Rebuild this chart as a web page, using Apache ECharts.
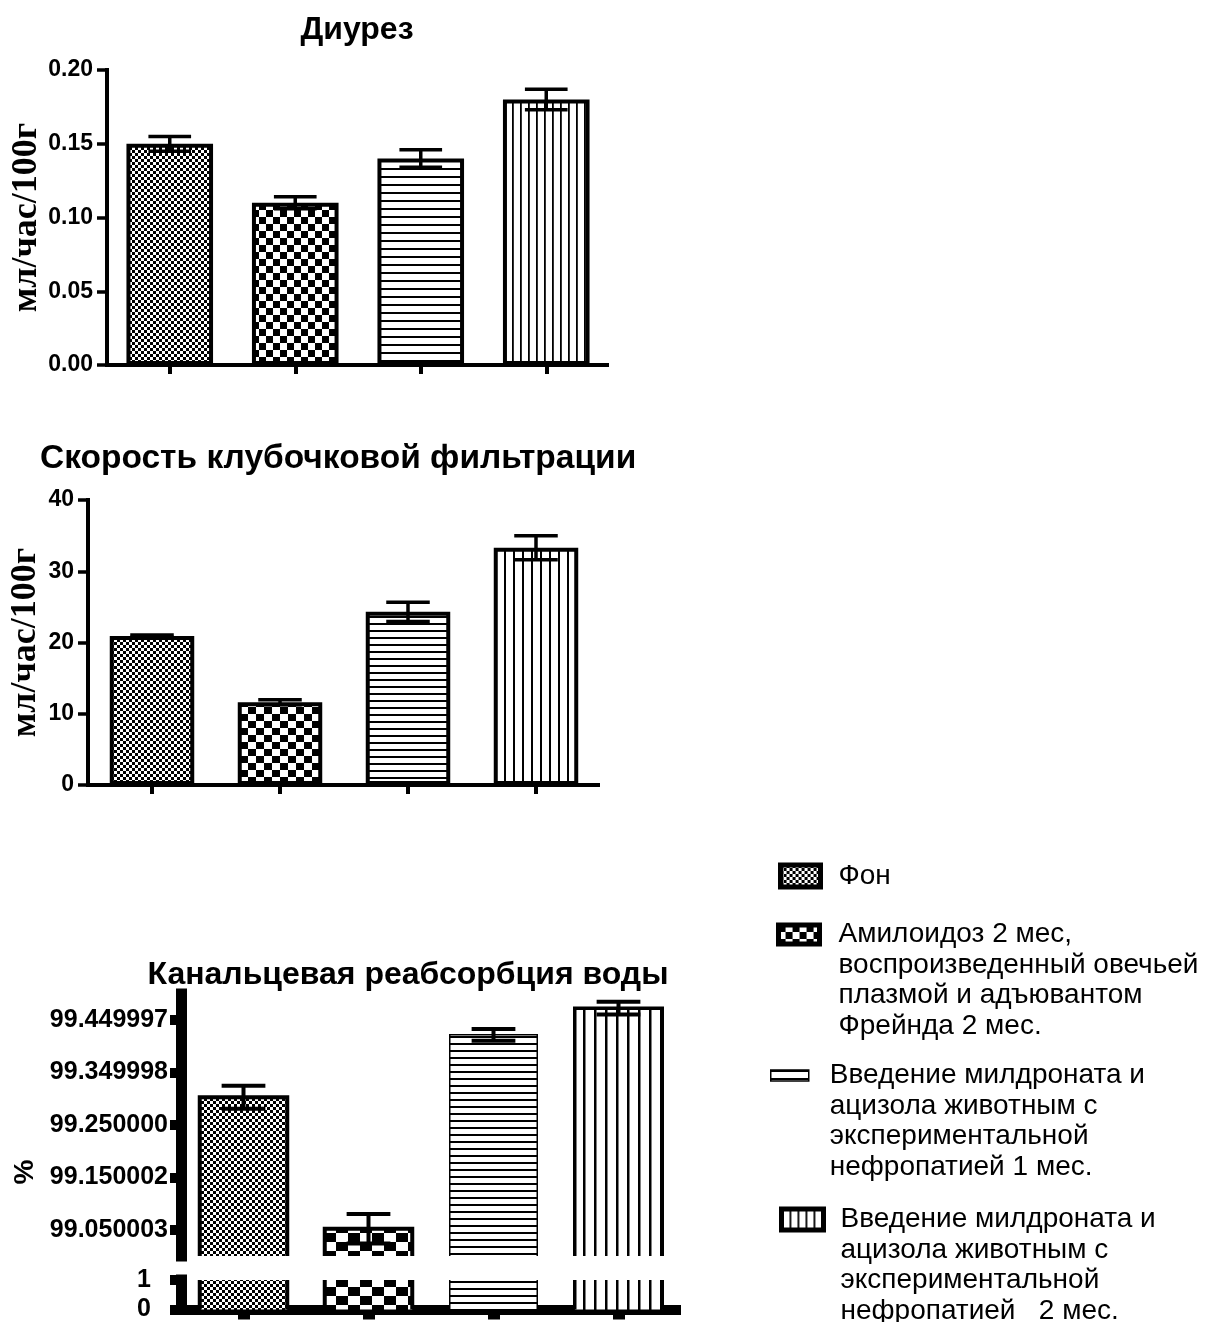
<!DOCTYPE html>
<html><head><meta charset="utf-8">
<script src="https://cdn.jsdelivr.net/npm/echarts@6/dist/echarts.min.js"></script>
<style>html,body{margin:0;padding:0;background:#fff}#c{width:1211px;height:1322px}</style>
</head><body><div id="c"></div>
<script>
// ---------- data ----------
const categories = ['Фон', 'Амилоидоз 2 мес', 'Милдронат и ацизол 1 мес', 'Милдронат и ацизол 2 мес'];
const legendNames = [
  'Фон',
  'Амилоидоз 2 мес,\nвоспроизведенный овечьей\nплазмой и адъювантом\nФрейнда 2 мес.',
  'Введение милдроната и\nацизола животным с\nэкспериментальной\nнефропатией 1 мес.',
  'Введение милдроната и\nацизола животным с\nэкспериментальной\nнефропатией   2 мес.'
];
const titles = ['Диурез', 'Скорость клубочковой фильтрации', 'Канальцевая реабсорбция воды'];
const axisNames = ['мл/час/100г', 'мл/час/100г', '%'];

const diuresisMean = [0.150, 0.110, 0.140, 0.180];
const diuresisErr  = [0.005, 0.004, 0.006, 0.007];
const gfrMean = [20.9, 11.6, 24.3, 33.3];
const gfrErr  = [0.15, 0.35, 1.35, 1.7];
const reabsMean = [99.303, 99.052, 99.422, 99.473];
const reabsErr  = [0.022, 0.028, 0.011, 0.012];

const diuresisTicks = ['0.00', '0.05', '0.10', '0.15', '0.20'];
const gfrTicks = ['0', '10', '20', '30', '40'];
const reabsTickValues = [99.05, 99.15, 99.25, 99.35, 99.45];
const reabsTickLabels = ['99.050003', '99.150002', '99.250000', '99.349998', '99.449997'];
const reabsLowTicks = ['0', '1'];

// ---------- patterns ----------
function tile(w, h, draw) {
  const c = document.createElement('canvas');
  c.width = w; c.height = h;
  const g = c.getContext('2d');
  g.fillStyle = '#fff'; g.fillRect(0, 0, w, h);
  g.fillStyle = '#000'; draw(g, w, h);
  return { image: c, repeat: 'repeat' };
}
const checker = (a, b) => tile(2 * a, 2 * b, g => { g.fillRect(0, 0, a, b); g.fillRect(a, b, a, b); });
const hlines = (s, lw) => tile(4, s, g => g.fillRect(0, 0, 4, lw));
const vlines = (s, lw) => tile(s, 4, g => g.fillRect(0, 0, lw, 4));

const styles1 = [
  { fill: checker(3, 3), bw: 4 }, { fill: checker(7, 7), bw: 4 },
  { fill: hlines(8, 2), bw: 4 }, { fill: vlines(8, 1.8), bw: 4 }];
const styles2 = [
  { fill: checker(3, 3), bw: 4 }, { fill: checker(8, 7), bw: 4 },
  { fill: hlines(7, 2), bw: 4 }, { fill: vlines(9, 2), bw: 4 }];
const styles3 = [
  { fill: checker(3, 3), bw: 4 }, { fill: checker(12, 9), bw: 4 },
  { fill: hlines(7, 2), bw: 1.5 }, { fill: vlines(11, 2.5), bw: 3.5 }];

// ---------- helpers ----------
const BLACK = '#000';
const SANS = 'Liberation Sans';
const tickFont = { color: BLACK, fontFamily: SANS, fontWeight: 'bold' };

function errRender(lw, capRatio) {
  return function (params, api) {
    const x = api.value(0), m = api.value(1), e = api.value(2);
    const t = api.coord([x, m + e]), b = api.coord([x, m - e]);
    const half = api.size([1, 0])[0] * capRatio / 2;
    const st = { stroke: BLACK, lineWidth: lw };
    return { type: 'group', children: [
      { type: 'line', shape: { x1: t[0], y1: t[1], x2: b[0], y2: b[1] }, style: st },
      { type: 'line', shape: { x1: t[0] - half, y1: t[1], x2: t[0] + half, y2: t[1] }, style: st },
      { type: 'line', shape: { x1: b[0] - half, y1: b[1], x2: b[0] + half, y2: b[1] }, style: st }
    ]};
  };
}
function brokenBar(styles, ratio) {
  return function (params, api) {
    const i = api.value(0), v = api.value(1);
    const cs = params.coordSys;
    const p = api.coord([i, v]);
    const w = api.size([1, 0])[0] * ratio;
    const yTop = Math.max(p[1], cs.y - 30);
    const yBot = cs.y + cs.height + 30;
    const st = styles[params.dataIndex];
    return { type: 'rect', shape: { x: p[0] - w / 2, y: yTop, width: w, height: yBot - yTop },
      style: { fill: st.fill, stroke: BLACK, lineWidth: st.bw } };
  };
}
function catAxis(grid, lineW, tickLen, tickW, show) {
  return { type: 'category', gridIndex: grid, data: categories, show: show !== false,
    axisLine: { show: true, onZero: false, lineStyle: { color: BLACK, width: lineW, cap: 'butt' } },
    axisTick: { show: true, interval: 0, alignWithLabel: true, length: tickLen, lineStyle: { color: BLACK, width: tickW, cap: 'butt' } },
    axisLabel: { show: false, interval: 0 }, splitLine: { show: false } };
}

// ---------- option ----------
const series = [];
[[0, diuresisMean, diuresisErr, styles1], [1, gfrMean, gfrErr, styles2]].forEach(([g, means, errs, styles]) => {
  categories.forEach((c, k) => {
    series.push({
      type: 'bar', name: legendNames[k], xAxisIndex: g, yAxisIndex: g, stack: 'st' + g,
      barWidth: g === 0 ? '69%' : '66%',
      data: means.map((m, i) => (i === k ? m : '-')),
      itemStyle: { color: styles[k].fill, borderColor: BLACK, borderWidth: styles[k].bw },
      emphasis: { disabled: true }, silent: true, z: 2
    });
  });
  series.push({ type: 'custom', name: 'err' + g, xAxisIndex: g, yAxisIndex: g, z: 5, silent: true,
    data: means.map((m, i) => [i, m, errs[i]]), renderItem: errRender(3.5, 0.34) });
});
[2, 3].forEach(g => {
  series.push({ type: 'custom', name: 'reabs' + g, xAxisIndex: g, yAxisIndex: g, clip: true, z: 2, silent: true,
    data: reabsMean.map((m, i) => [i, m]), renderItem: brokenBar(styles3, 0.7) });
});
series.push({ type: 'custom', name: 'err2', xAxisIndex: 2, yAxisIndex: 2, z: 5, silent: true,
  data: reabsMean.map((m, i) => [i, m, reabsErr[i]]), renderItem: errRender(4, 0.35) });

const legendLayout = [
  { left: 778, iconTop: 865, w: 40, h: 22, bw: 5, pl: 13 },
  { left: 776, iconTop: 925, w: 41, h: 19, bw: 5, pl: 14 },
  { left: 770, iconTop: 1070, w: 38, h: 11, bw: 1.5, pl: 16 },
  { left: 779, iconTop: 1209, w: 42, h: 21, bw: 5, pl: 12 }
];
const LH = 30.5;
const legends = legendNames.map((name, k) => {
  const L = legendLayout[k];
  const n = name.split('\n').length;
  const H = (2 * n - 1) * LH;
  const rectTop = Math.min(0, L.h / 2 - H / 2);
  return {
    data: [name], left: L.left, top: L.iconTop + rectTop, padding: 0, orient: 'vertical',
    itemWidth: L.w, itemHeight: L.h, icon: 'rect', selectedMode: false,
    formatter: nm => '\n'.repeat(n - 1) + nm,
    itemStyle: { borderColor: BLACK, borderWidth: L.bw },
    textStyle: { fontFamily: SANS, fontSize: 28, lineHeight: LH, color: BLACK, padding: [0, 0, 0, L.pl] }
  };
});

const titleFont = { fontFamily: SANS, fontWeight: 'bold', fontSize: 32, color: BLACK };
const nameFont = { fontFamily: 'Liberation Serif', fontWeight: 'bold', fontSize: 36, color: BLACK };
const option = {
  backgroundColor: '#fff',
  animation: false,
  title: [
    { text: titles[0], left: 357, top: 30, textAlign: 'center', textVerticalAlign: 'middle', padding: 0, textStyle: titleFont },
    { text: titles[1], left: 40, top: 459, textAlign: 'left', textVerticalAlign: 'middle', padding: 0,
      textStyle: Object.assign({}, titleFont, { fontSize: 33.5 }) },
    { text: titles[2], left: 408, top: 975, textAlign: 'center', textVerticalAlign: 'middle', padding: 0, textStyle: titleFont }
  ],
  legend: legends,
  grid: [
    { left: 107, top: 70, width: 502, height: 295 },
    { left: 88, top: 500, width: 512, height: 285 },
    { left: 181, top: 994, width: 500, height: 262 },
    { left: 181, top: 1280, width: 500, height: 33 }
  ],
  xAxis: [
    catAxis(0, 4, 9, 4),
    catAxis(1, 4, 9, 4),
    catAxis(2, 0, 0, 0, false),
    catAxis(3, 10, 10, 12)
  ],
  yAxis: [
    { type: 'value', gridIndex: 0, min: 0, max: 0.2, interval: 0.05,
      axisLine: { show: true, lineStyle: { color: BLACK, width: 4, cap: 'square' } },
      axisTick: { show: true, length: 10, lineStyle: { color: BLACK, width: 3.5 } },
      splitLine: { show: false },
      axisLabel: Object.assign({ margin: 14, fontSize: 23, formatter: (v, i) => diuresisTicks[i] }, tickFont),
      name: axisNames[0], nameLocation: 'middle', nameRotate: 90, nameGap: 62, nameTextStyle: nameFont },
    { type: 'value', gridIndex: 1, min: 0, max: 40, interval: 10,
      axisLine: { show: true, lineStyle: { color: BLACK, width: 4, cap: 'square' } },
      axisTick: { show: true, length: 10, lineStyle: { color: BLACK, width: 3.5 } },
      splitLine: { show: false },
      axisLabel: Object.assign({ margin: 14, fontSize: 23, formatter: (v, i) => gfrTicks[i] }, tickFont),
      name: axisNames[1], nameLocation: 'middle', nameRotate: 90, nameGap: 44, nameTextStyle: nameFont },
    { type: 'value', gridIndex: 2, min: 99.0, max: 99.5,
      axisLine: { show: true, lineStyle: { color: BLACK, width: 11, cap: 'square' } },
      axisTick: { show: true, customValues: reabsTickValues, length: 11, lineStyle: { color: BLACK, width: 10 } },
      splitLine: { show: false },
      axisLabel: Object.assign({ margin: 13, fontSize: 25, customValues: reabsTickValues,
        formatter: v => reabsTickLabels[reabsTickValues.findIndex(t => Math.abs(t - v) < 1e-6)] }, tickFont),
      name: axisNames[2], nameLocation: 'middle', nameRotate: 90, nameGap: 142,
      nameTextStyle: { fontFamily: SANS, fontWeight: 'bold', fontSize: 28, color: BLACK, padding: [0, 94, 0, 0] } },
    { type: 'value', gridIndex: 3, min: 0, max: 1, interval: 1,
      axisLine: { show: true, lineStyle: { color: BLACK, width: 11, cap: 'square' } },
      axisTick: { show: true, length: 11, lineStyle: { color: BLACK, width: 10 } },
      splitLine: { show: false },
      axisLabel: Object.assign({ margin: 30, fontSize: 25, formatter: (v, i) => reabsLowTicks[i] }, tickFont) }
  ],
  series: series
};
const chart = echarts.init(document.getElementById('c'), null, { renderer: 'canvas' });
chart.setOption(option);
</script></body></html>
